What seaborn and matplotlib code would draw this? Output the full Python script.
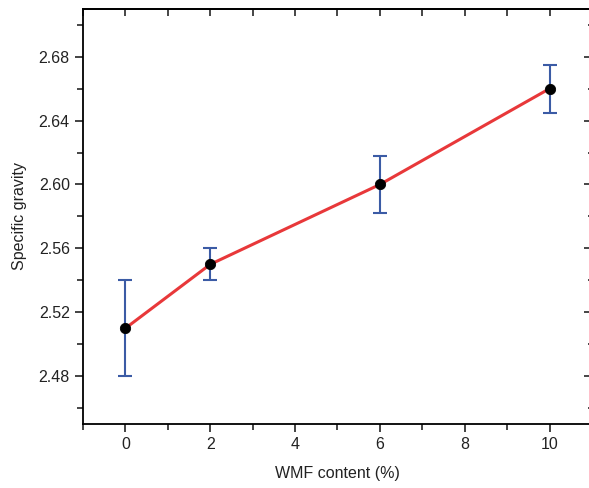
import matplotlib
matplotlib.use("Agg")
import matplotlib.pyplot as plt
from matplotlib.ticker import MultipleLocator, NullFormatter
import pandas as pd
import seaborn as sns

# WMF content (%) vs specific gravity
wmf = [0, 2, 6, 10]
gravity = [2.51, 2.55, 2.60, 2.66]
err = [0.03, 0.01, 0.018, 0.015]
yticks = [2.48, 2.52, 2.56, 2.60, 2.64, 2.68]

sns.set_style("ticks")
plt.rcParams["font.family"] = ["Liberation Sans", "DejaVu Sans"]

df = pd.DataFrame({"wmf": wmf, "gravity": gravity})

fig = plt.figure(figsize=(5.89, 4.88), dpi=100)
ax = fig.add_axes([0.141, 0.131, 0.864, 0.851])

ax.errorbar(wmf, gravity, yerr=err, fmt="none", ecolor="#3b5ba5",
            elinewidth=1.5, capsize=5, capthick=1.5, zorder=2)
sns.lineplot(data=df, x="wmf", y="gravity", color="#e8383a", linewidth=2.2, ax=ax, zorder=3)
sns.scatterplot(data=df, x="wmf", y="gravity", color="black", s=55, edgecolor="black",
                ax=ax, zorder=4)

ax.set_xlim(-1, 11)
ax.set_ylim(2.45, 2.71)
ax.xaxis.set_major_locator(MultipleLocator(2))
ax.xaxis.set_minor_locator(MultipleLocator(1))
ax.set_yticks(yticks)
ax.yaxis.set_minor_locator(MultipleLocator(0.02))
ax.yaxis.set_major_formatter(plt.FormatStrFormatter("%.2f"))

ax.tick_params(which="major", direction="out", length=6, width=1.2, labelsize=11.5,
               colors="#222222")
ax.tick_params(which="minor", direction="out", length=4, width=1.2)

# mirrored inward ticks on top and right
top = ax.secondary_xaxis("top")
top.xaxis.set_major_locator(MultipleLocator(2))
top.xaxis.set_minor_locator(MultipleLocator(1))
top.xaxis.set_major_formatter(NullFormatter())
top.tick_params(which="both", direction="in", length=5, width=1.2)

right = ax.secondary_yaxis("right")
right.set_yticks(yticks)
right.yaxis.set_minor_locator(MultipleLocator(0.02))
right.yaxis.set_major_formatter(NullFormatter())
right.tick_params(which="major", direction="in", length=6, width=1.2)
right.tick_params(which="minor", direction="in", length=3, width=1.2)

for a in (ax, top, right):
    for s in a.spines.values():
        s.set_linewidth(1.3)
        s.set_color("black")

ax.set_xlabel("WMF content (%)", fontsize=11.5, labelpad=10, color="#222222")
ax.set_ylabel("Specific gravity", fontsize=11.5, labelpad=8, color="#222222")

fig.savefig("out.png", dpi=100)
